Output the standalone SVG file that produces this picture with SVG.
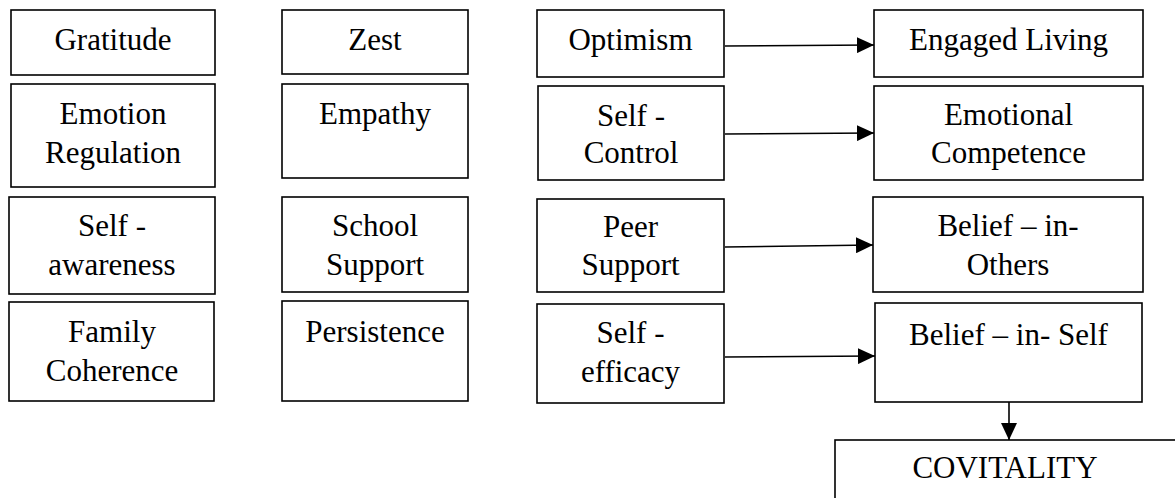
<svg xmlns="http://www.w3.org/2000/svg" width="1175" height="498" viewBox="0 0 1175 498">
<style>
.box{fill:#fff;stroke:#000;stroke-width:1.6}
.t{font-family:"Liberation Serif","Times New Roman",serif;font-size:31px;fill:#000;text-anchor:middle}
.c{fill:none;stroke:#000;stroke-width:1.6}
</style>
<defs>
<marker id="ah" markerUnits="userSpaceOnUse" markerWidth="17" markerHeight="16" refX="17" refY="8" orient="auto">
<path d="M0,0 L17,8 L0,16 z" fill="#000"/>
</marker>
</defs>
<rect width="1175" height="498" fill="#fff"/>
<g id="gratitude"><rect class="box" x="11" y="10" width="204" height="65"/><text class="t" x="113" y="50">Gratitude</text></g>
<g id="emotion-regulation"><rect class="box" x="11" y="84" width="204" height="103"/><text class="t" x="113" y="124">Emotion</text><text class="t" x="113" y="163">Regulation</text></g>
<g id="self-awareness"><rect class="box" x="9" y="197" width="206" height="97"/><text class="t" x="112" y="236">Self -</text><text class="t" x="112" y="275">awareness</text></g>
<g id="family-coherence"><rect class="box" x="9" y="302" width="205" height="99"/><text class="t" x="112" y="342">Family</text><text class="t" x="112" y="381">Coherence</text></g>
<g id="zest"><rect class="box" x="282" y="10" width="186" height="64"/><text class="t" x="375" y="50">Zest</text></g>
<g id="empathy"><rect class="box" x="282" y="84" width="186" height="94"/><text class="t" x="375" y="124">Empathy</text></g>
<g id="school-support"><rect class="box" x="282" y="197" width="186" height="95"/><text class="t" x="375" y="236">School</text><text class="t" x="375" y="275">Support</text></g>
<g id="persistence"><rect class="box" x="282" y="301" width="186" height="100"/><text class="t" x="375" y="342">Persistence</text></g>
<g id="optimism"><rect class="box" x="537" y="10" width="187" height="67"/><text class="t" x="630.5" y="50">Optimism</text></g>
<g id="self-control"><rect class="box" x="538" y="86" width="186" height="94"/><text class="t" x="631" y="126">Self -</text><text class="t" x="631" y="163">Control</text></g>
<g id="peer-support"><rect class="box" x="537" y="199" width="187" height="93"/><text class="t" x="630.5" y="237">Peer</text><text class="t" x="630.5" y="275">Support</text></g>
<g id="self-efficacy"><rect class="box" x="537" y="304" width="187" height="99"/><text class="t" x="630.5" y="343">Self -</text><text class="t" x="630.5" y="382">efficacy</text></g>
<g id="engaged-living"><rect class="box" x="874" y="10" width="269" height="67"/><text class="t" x="1008.5" y="50">Engaged Living</text></g>
<g id="emotional-competence"><rect class="box" x="874" y="86" width="269" height="94"/><text class="t" x="1008.5" y="125">Emotional</text><text class="t" x="1008.5" y="163">Competence</text></g>
<g id="belief-in-others"><rect class="box" x="873" y="197" width="270" height="95"/><text class="t" x="1008" y="236">Belief – in-</text><text class="t" x="1008" y="275">Others</text></g>
<g id="belief-in-self"><rect class="box" x="875" y="303" width="267" height="99"/><text class="t" x="1008.5" y="345">Belief – in- Self</text></g>
<g id="covitality"><rect class="box" x="835" y="440" width="400" height="100"/><text class="t" x="1005" y="478">COVITALITY</text></g>
<g id="connectors">
<path class="c" d="M725,46 L874,45" marker-end="url(#ah)"/>
<path class="c" d="M725,134 L874,133" marker-end="url(#ah)"/>
<path class="c" d="M725,247 L873,245" marker-end="url(#ah)"/>
<path class="c" d="M725,357 L875,356" marker-end="url(#ah)"/>
<path class="c" d="M1009,402 L1009,440" marker-end="url(#ah)"/>
</g>
</svg>
